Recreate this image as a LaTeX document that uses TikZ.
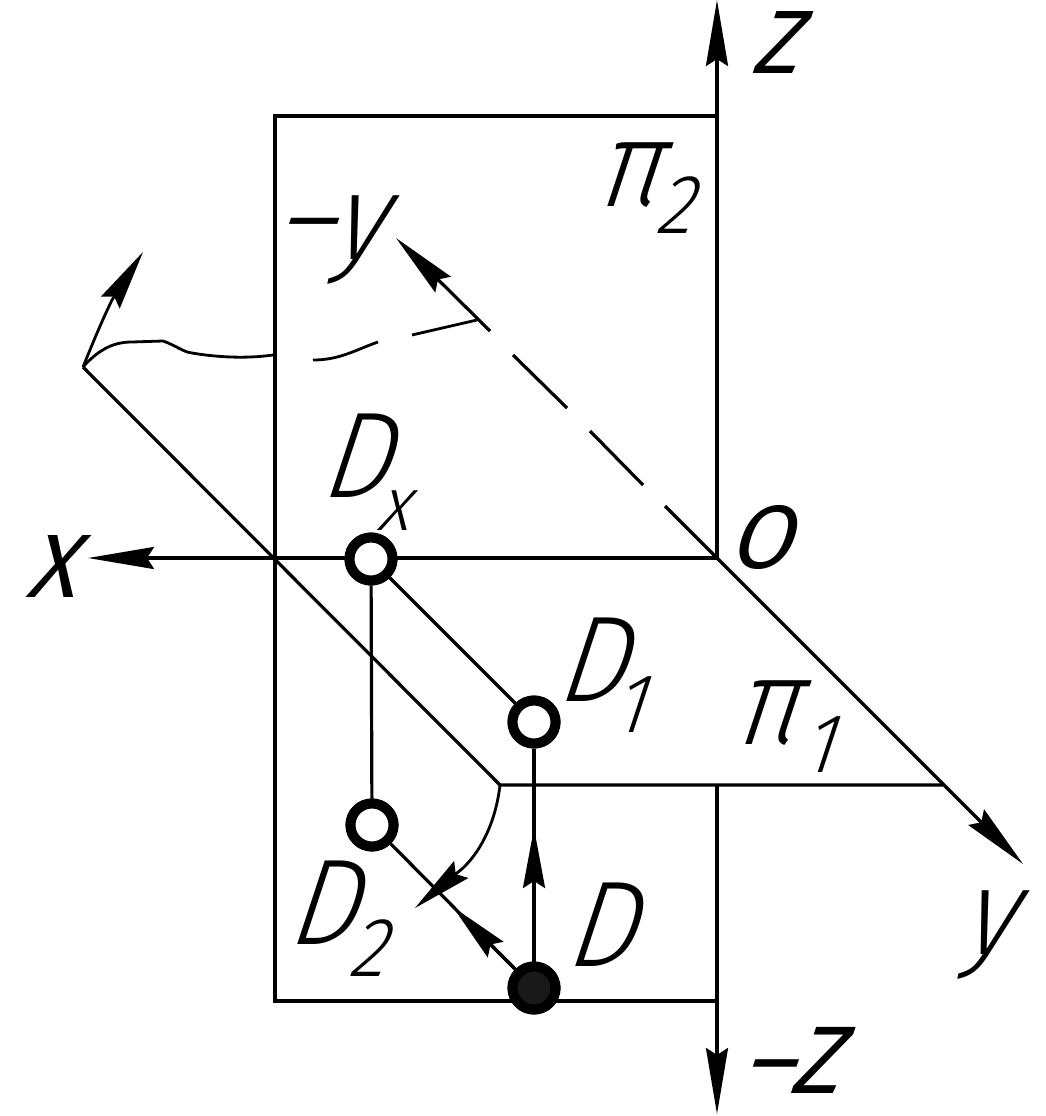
\documentclass[tikz,border=0pt]{standalone}
\usepackage{fontspec}
\setmainfont{Liberation Sans}
\newfontfamily\gost[FakeSlant=0.33,FakeStretch=0.9]{Fira Sans Light}
\newfontfamily\gostb[FakeSlant=0.33]{Fira Sans}
\usetikzlibrary{arrows.meta}
\tikzset{
  ln/.style={draw=black,line width=3.2pt},
  fine/.style={draw=black,line width=2.8pt},
  tipa/.style={-{Stealth[length=66pt,width=22pt,inset=7pt]}},
  tipb/.style={-{Stealth[length=60pt,width=22pt,inset=7pt]}},
  lbl/.style={inner sep=0pt,font=\fontsize{122}{122}\gost},
  capl/.style={inner sep=0pt,font=\fontsize{90}{90}\gostb},
  subl/.style={inner sep=0pt,font=\fontsize{84}{84}\gost},
  subx/.style={inner sep=0pt,font=\fontsize{76}{76}\gost},
  openpt/.style={circle,draw=black,fill=white,line width=10pt,minimum size=43pt,inner sep=0pt},
  fullpt/.style={circle,draw=black,fill=black!90,line width=10pt,minimum size=43pt,inner sep=0pt}
}
\begin{document}
\begin{tikzpicture}[x=1pt,y=-1pt]
\useasboundingbox (0,0) rectangle (1046,1116);
\fill[white] (0,0) rectangle (1046,1116);
\coordinate (O) at (717,558);
\coordinate (Ztop) at (717,0);
\coordinate (Zbot) at (717,1114);
\coordinate (Xend) at (88,558);
\coordinate (Yend) at (1023,864);
\coordinate (Ymend) at (396,238);
\coordinate (TL) at (275,116);
\coordinate (TR) at (717,116);
\coordinate (BL) at (275,1001);
\coordinate (BR) at (717,1001);
\coordinate (Far) at (83,367);
\coordinate (Near) at (500,785);
\coordinate (NearR) at (943,785);
\coordinate (ZMid) at (717,785);
\coordinate (FarTip) at (143,252);
\coordinate (CurveTip) at (415,908);
\coordinate (ArrA) at (534,828);
\coordinate (ArrB) at (453,907);
\node[openpt] (Dx) at (371,559) {};
\node[openpt] (D1) at (534,722) {};
\node[openpt] (D2) at (372,825) {};
\node[fullpt] (D) at (534,988) {};
% plane pi2
\draw[ln] (TR) -- (TL) -- (BL) -- (BR);
% axes
\draw[ln,tipa] (O) -- (Ztop);
\draw[ln,tipa] (ZMid) -- (Zbot);
\draw[ln,tipa] (O) -- (Xend);
\draw[ln,tipa] (O) -- (Yend);
% -y dashed
\draw[ln,tipa] (490,331) -- (Ymend);
\draw[ln] (513,355) -- (567,408);
\draw[ln] (590,431) -- (643,485);
\draw[ln] (665,506) -- (O);
% pi1 plane
\draw[ln] (Far) -- (Near) -- (NearR);
% curve top
\draw[fine,tipb] (Far) .. controls (92,345) and (100,325) .. (112,300) -- (FarTip);
\draw[fine] (Far) .. controls (100,348) and (115,342) .. (132,342) -- (163,341) .. controls (175,345) and (183,352) .. (192,353) .. controls (215,357) and (245,359) .. (273,355);
\draw[fine] (313,360) .. controls (340,360) and (355,350) .. (378,342);
\draw[fine] (412,335) -- (477,320);
% curve bottom
\draw[fine,tipb] (Near) .. controls (496,820) and (482,850) .. (463,868) -- (CurveTip);
% construction lines
\draw[ln] (Dx) -- (D1);
\draw[ln] (Dx) -- (D2);
\draw[ln] (D1) -- (D);
\draw[ln] (D2) -- (D);
\draw[ln,tipb] (D) -- (ArrA);
\draw[ln,tipb] (D) -- (ArrB);
\node[openpt] at (Dx) {};
\node[openpt] at (D1) {};
\node[openpt] at (D2) {};
\node[fullpt] at (D) {};
% labels
\node[capl] (lZ) at (774,42) {Z};
\node[capl,font=\fontsize{96}{96}\gostb] (lmZ) at (790,1060) {\textendash Z};
\node[capl] (lX) at (50,566) {X};
\node[lbl] (lY) at (985,935) {y};
\node[lbl] (lmY) at (327,240) {\textendash y};
\node[capl] (lO) at (759,537) {O};
\node[lbl] (lD) at (598,925) {D};
\node[lbl] (lDx) at (353,456) {D};
\node[subx] (sDx) at (392,511) {x};
\node[lbl] (lD1) at (589,660) {D};
\node[subl] (sD1) at (627,705) {1};
\node[lbl] (lD2) at (320,903) {D};
\node[subl] (sD2) at (366,948) {2};
\node[lbl] (lp2) at (626,175) {π};
\node[subl] (sp2) at (673,205) {2};
\node[lbl] (lp1) at (764,713) {π};
\node[subl] (sp1) at (816,745) {1};
\end{tikzpicture}
\end{document}
